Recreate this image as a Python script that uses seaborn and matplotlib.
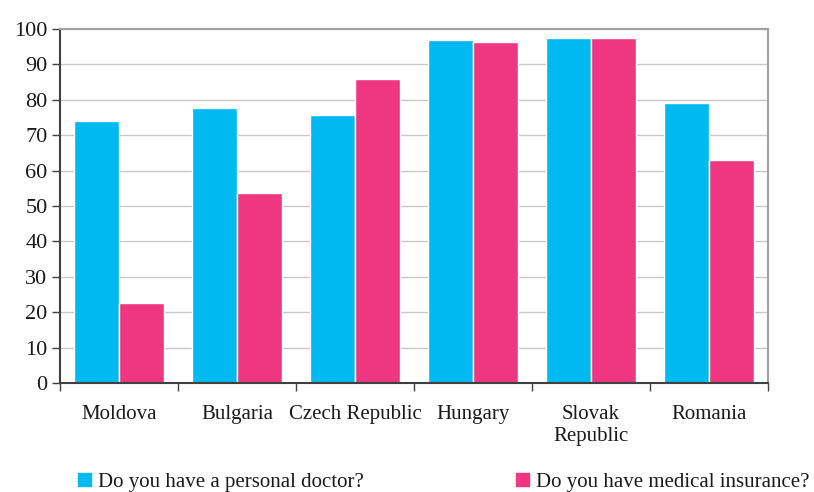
import seaborn as sns
import matplotlib.pyplot as plt
import pandas as pd
from matplotlib.patches import Patch

# data
countries = ["Moldova", "Bulgaria", "Czech Republic", "Hungary", "Slovak\nRepublic", "Romania"]
doctor = [74.1, 77.7, 75.8, 96.9, 97.5, 79.2]
insurance = [22.7, 53.7, 85.9, 96.3, 97.5, 63.1]
series = ["Do you have a personal doctor?", "Do you have medical insurance?"]
colors = ["#00B9F0", "#EE3780"]

df = pd.DataFrame({
    "country": countries * 2,
    "value": doctor + insurance,
    "series": [series[0]] * len(countries) + [series[1]] * len(countries),
})

sns.set_style("white")
plt.rcParams["font.family"] = ["Liberation Serif", "DejaVu Serif"]

fig = plt.figure(figsize=(8.14, 4.92), dpi=100)
ax = fig.add_axes([60 / 814, 1 - 383 / 492, 708 / 814, 354 / 492])

sns.barplot(data=df, x="country", y="value", hue="series", palette=colors,
            width=0.76, edgecolor="white", linewidth=1, saturation=1, ax=ax)

ax.set_ylim(0, 100)
ax.set_xlim(-0.5, len(countries) - 0.5)
ax.set_yticks(range(0, 101, 10))
ax.yaxis.grid(True, color="#c8c8c8", linewidth=1)
ax.set_axisbelow(True)
ax.set_xlabel("")
ax.set_ylabel("")

for s in ["top", "right"]:
    ax.spines[s].set_color("#a0a0a0")
    ax.spines[s].set_linewidth(1.5)
for s in ["left", "bottom"]:
    ax.spines[s].set_color("#404040")
    ax.spines[s].set_linewidth(1.5)

ax.tick_params(axis="y", left=True, length=6, width=1, color="#404040",
               labelsize=16, colors="#1a1a1a", pad=3)
ax.set_xticks([i - 0.5 for i in range(len(countries) + 1)], minor=True)
ax.tick_params(axis="x", which="minor", bottom=True, length=6, width=1, color="#404040")
ax.tick_params(axis="x", which="major", bottom=False, labelsize=15,
               labelcolor="#1a1a1a", pad=12)
for t in ax.get_xticklabels():
    t.set_linespacing(1.25)

ax.get_legend().remove()
handles = [Patch(color=c) for c in colors]
for h, lab, x0 in zip(handles, series, [70, 508]):
    fig.legend([h], [lab], loc="center left", bbox_to_anchor=(x0 / 814, 1 - 482 / 492),
               frameon=False, fontsize=15, handlelength=0.6, handleheight=0.6,
               handletextpad=0.35, borderaxespad=0, labelcolor="#1a1a1a")

fig.savefig("out.png", dpi=100)
